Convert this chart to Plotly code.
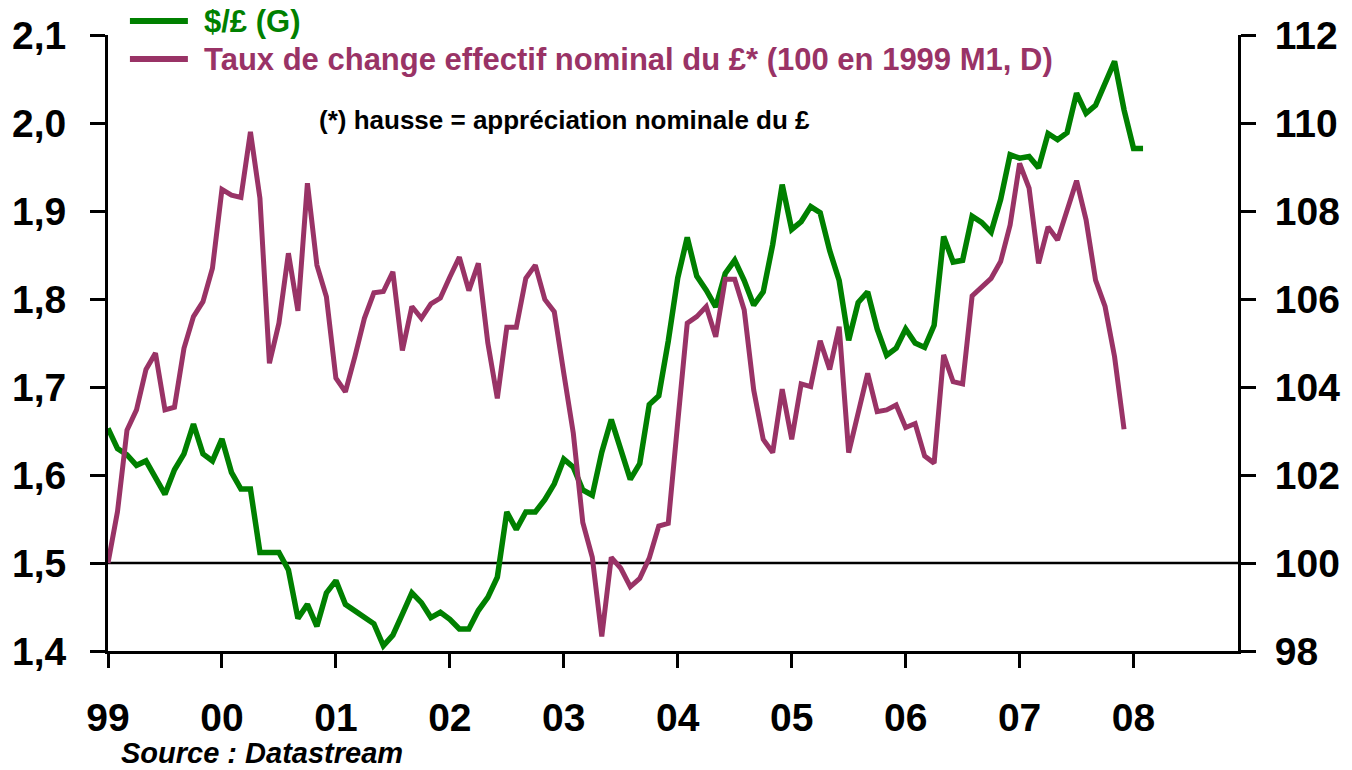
import plotly.graph_objects as go

# ---- data (monthly, month index 0 = Jan 1999) ----
usd_gbp = [
    1.653, 1.630, 1.623, 1.611, 1.616, 1.598, 1.578, 1.606, 1.624, 1.658, 1.624, 1.616,
    1.641, 1.603, 1.584, 1.584, 1.512, 1.512, 1.512, 1.492, 1.437, 1.453, 1.428, 1.466,
    1.480, 1.453, 1.446, 1.438, 1.431, 1.406, 1.418, 1.442, 1.466, 1.455, 1.438, 1.444,
    1.436, 1.425, 1.425, 1.446, 1.461, 1.484, 1.558, 1.538, 1.558, 1.558, 1.572, 1.590,
    1.618, 1.609, 1.583, 1.577, 1.626, 1.663, 1.628, 1.595, 1.613, 1.680, 1.690, 1.752,
    1.824, 1.870, 1.826, 1.810, 1.791, 1.829, 1.844, 1.821, 1.793, 1.808, 1.862, 1.930,
    1.879, 1.888, 1.905, 1.898, 1.855, 1.821, 1.753, 1.796, 1.808, 1.766, 1.736, 1.744,
    1.766, 1.750, 1.745, 1.770, 1.871, 1.842, 1.844, 1.894, 1.887, 1.876, 1.913, 1.964,
    1.960, 1.962, 1.949, 1.988, 1.981, 1.989, 2.034, 2.011, 2.020, 2.045, 2.070, 2.015,
    1.971, 1.971,
]
teer_gbp = [
    100.00, 101.17, 103.02, 103.48, 104.40, 104.77, 103.48, 103.54, 104.88, 105.60, 105.94, 106.70,
    108.49, 108.36, 108.31, 109.80, 108.29, 104.54, 105.45, 107.04, 105.73, 108.63, 106.77, 106.05,
    104.20, 103.89, 104.69, 105.56, 106.14, 106.17, 106.62, 104.83, 105.83, 105.56, 105.89, 106.02,
    106.50, 106.95, 106.19, 106.81, 105.00, 103.74, 105.36, 105.36, 106.47, 106.77, 105.99, 105.71,
    104.31, 102.95, 100.92, 100.13, 98.33, 100.13, 99.88, 99.46, 99.65, 100.11, 100.84, 100.90,
    103.20, 105.45, 105.60, 105.83, 105.14, 106.45, 106.45, 105.75, 103.93, 102.81, 102.51, 103.95,
    102.81, 104.07, 104.01, 105.05, 104.40, 105.37, 102.51, 103.36, 104.31, 103.44, 103.48, 103.59,
    103.08, 103.17, 102.43, 102.27, 104.73, 104.12, 104.07, 106.07, 106.27, 106.47, 106.85, 107.68,
    109.08, 108.52, 106.81, 107.64, 107.34, 108.00, 108.69, 107.80, 106.43, 105.83, 104.69, 103.04,
]
months_usd = list(range(len(usd_gbp)))
months_teer = list(range(len(teer_gbp)))

year_ticks = [0, 12, 24, 36, 48, 60, 72, 84, 96, 108]
year_labels = ["99", "00", "01", "02", "03", "04", "05", "06", "07", "08"]
left_ticks = [1.4, 1.5, 1.6, 1.7, 1.8, 1.9, 2.0, 2.1]
left_labels = ["1,4", "1,5", "1,6", "1,7", "1,8", "1,9", "2,0", "2,1"]
right_ticks = [98, 100, 102, 104, 106, 108, 110, 112]

name_usd = "$/£ (G)"
name_teer = "Taux de change effectif nominal du £* (100 en 1999 M1, D)"
note = "(*) hausse = appréciation nominale du £"
source = "Source : Datastream"

GREEN = "#008000"
PURPLE = "#993366"
FONT = "Liberation Sans, Arial, sans-serif"

fig = go.Figure()
fig.add_trace(go.Scatter(x=months_usd, y=usd_gbp, mode="lines", name=name_usd,
                         line=dict(color=GREEN, width=5.5), yaxis="y", showlegend=False))
fig.add_trace(go.Scatter(x=months_teer, y=teer_gbp, mode="lines", name=name_teer,
                         line=dict(color=PURPLE, width=5), yaxis="y2", showlegend=False))

# horizontal reference line at 1,5 (= 100)
fig.add_shape(type="line", xref="paper", x0=0, x1=1, yref="y", y0=1.5, y1=1.5,
              line=dict(color="black", width=2.5), layer="below")

# manual legend
for yy, col, txt in [(1.0227, GREEN, name_usd), (0.961, PURPLE, name_teer)]:
    fig.add_shape(type="line", xref="paper", yref="paper", x0=0.0194, x1=0.0707, y0=yy, y1=yy,
                  line=dict(color=col, width=6))
    fig.add_annotation(xref="paper", yref="paper", x=0.0830, y=yy, xanchor="left", yanchor="middle",
                       text=txt, showarrow=False,
                       font=dict(family=FONT, size=31, color=col, weight="bold"))

fig.add_annotation(xref="paper", yref="paper", x=0.185, y=0.862, xanchor="left", yanchor="middle",
                   text=note, showarrow=False,
                   font=dict(family=FONT, size=26, color="black", weight="bold"))
fig.add_annotation(xref="paper", yref="paper", x=0.011, y=-0.165, xanchor="left", yanchor="middle",
                   text="<i>" + source + "</i>", showarrow=False, borderpad=0,
                   font=dict(family=FONT, size=29, color="black", weight="bold"))

axis_common = dict(showline=True, linecolor="black", linewidth=3, ticks="outside",
                   tickcolor="black", tickwidth=3, showgrid=False, zeroline=False,
                   tickfont=dict(family=FONT, size=39, color="black", weight="bold"))

fig.update_layout(
    width=1352, height=770,
    margin=dict(l=108, r=112, t=35, b=119),
    paper_bgcolor="white", plot_bgcolor="white",
    xaxis=dict(range=[0, 119], tickvals=year_ticks, ticktext=year_labels, ticklen=14,
               ticklabelstandoff=16, **axis_common),
    yaxis=dict(range=[1.4, 2.1], tickvals=left_ticks, ticktext=left_labels, ticklen=15,
               ticklabelstandoff=16, **axis_common),
    yaxis2=dict(range=[98, 112], tickvals=right_ticks, overlaying="y", side="right", ticklen=15,
                ticklabelstandoff=11, **axis_common),
)

fig.write_html("out.html", config={"displayModeBar": False},
               post_script="document.body.style.margin='0';")
